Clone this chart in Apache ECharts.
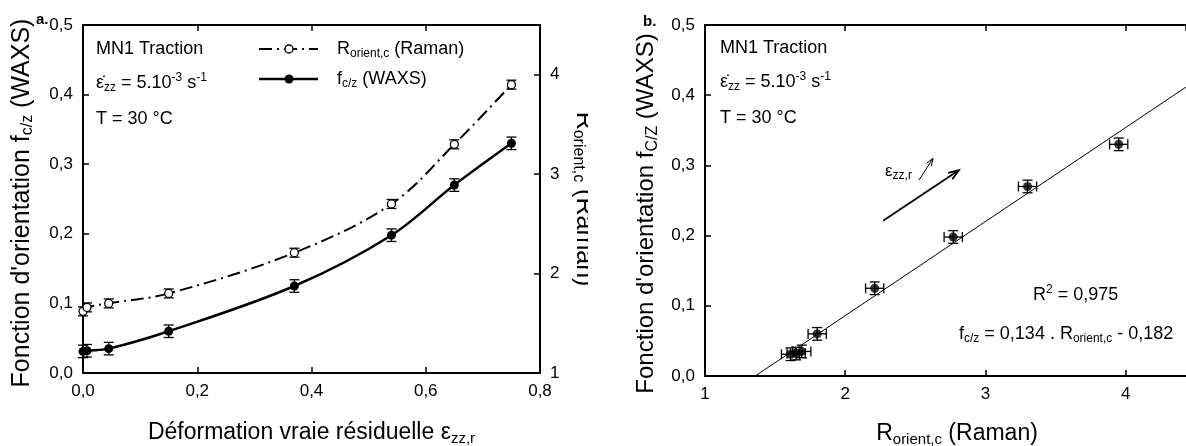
<!DOCTYPE html>
<html><head><meta charset="utf-8">
<script src="https://cdn.jsdelivr.net/npm/echarts@6/dist/echarts.min.js"></script>
<style>
html,body{margin:0;padding:0;background:#fff;overflow:hidden;}
#a{position:absolute;left:0;top:0;width:588px;height:446px;}
#b{position:absolute;left:588px;top:0;width:598px;height:446px;}
</style></head><body>
<div id="a"></div><div id="b"></div>
<script>
// ---- data ----
const strain      = [0, 0.007, 0.045, 0.15, 0.37, 0.54, 0.65, 0.75];
const fcz         = [0.031, 0.032, 0.035, 0.060, 0.125, 0.198, 0.270, 0.330];
const fczErr      = [0.009, 0.009, 0.009, 0.009, 0.009, 0.009, 0.009, 0.009];
const rOrient     = [1.62, 1.66, 1.70, 1.80, 2.21, 2.70, 3.30, 3.90];
const rOrientErr  = [0.045, 0.045, 0.045, 0.045, 0.045, 0.045, 0.045, 0.045];
const rScatter    = [1.61, 1.65, 1.69, 1.80, 2.21, 2.77, 3.30, 3.95];
const rScatterErr = [0.065, 0.065, 0.065, 0.065, 0.065, 0.065, 0.065, 0.065];
const fitSlope = 0.134, fitIntercept = -0.182;
const arrowsB = [[2.27, 0.221, 2.81, 0.293], [2.526, 0.279, 2.626, 0.310]];
const xTicksA = ['0,0', '0,2', '0,4', '0,6', '0,8'];
const yTicksF = ['0,0', '0,1', '0,2', '0,3', '0,4', '0,5'];
const yTicksR = ['1', '2', '3', '4'];
const xTicksB = ['1', '2', '3', '4'];

const FONT = 'Liberation Sans';
const BLACK = '#000';
const richTitle = {
  sub: {fontSize: 16, lineHeight: 16, verticalAlign: 'bottom', fontFamily: FONT, color: BLACK}
};
const richAnn = {
  sub: {fontSize: 12, lineHeight: 12, verticalAlign: 'bottom', fontFamily: FONT, fill: BLACK, color: BLACK},
  sup: {fontSize: 12, lineHeight: 12, verticalAlign: 'top', fontFamily: FONT, fill: BLACK, color: BLACK}
};
const titleStyle = {fontSize: 25, fontFamily: FONT, color: BLACK, lineHeight: 28, rich: richTitle};
const xTitleStyle = {fontSize: 23, fontFamily: FONT, color: BLACK, lineHeight: 26,
  rich: {sub: {fontSize: 15, lineHeight: 15, verticalAlign: 'bottom', fontFamily: FONT, color: BLACK}}};

function axisCommon() {
  return {
    type: 'value',
    axisLine: {show: true, onZero: false, lineStyle: {color: BLACK, width: 2}},
    axisTick: {show: true, inside: true, length: 6, lineStyle: {color: BLACK, width: 1.5}},
    splitLine: {show: false},
    axisLabel: {color: BLACK, fontSize: 17, fontFamily: FONT, margin: 10}
  };
}
function lookup(labels, min, step) {
  return v => { const i = Math.round((v - min) / step); return labels[i] !== undefined && Math.abs(min + i * step - v) < 1e-6 ? labels[i] : ''; };
}
function errV(xs, ys, es, yIdx, cap) {
  return {
    type: 'custom', yAxisIndex: yIdx, z: 2, silent: true,
    data: xs.map((x, i) => [x, ys[i], es[i]]),
    encode: {x: 0, y: 1},
    renderItem(params, api) {
      const x = api.value(0), y = api.value(1), e = api.value(2);
      const a = api.coord([x, y - e]), b = api.coord([x, y + e]);
      const st = {stroke: BLACK, lineWidth: 1.3};
      return {type: 'group', children: [
        {type: 'line', shape: {x1: a[0], y1: a[1], x2: b[0], y2: b[1]}, style: st},
        {type: 'line', shape: {x1: a[0] - cap, y1: a[1], x2: a[0] + cap, y2: a[1]}, style: st},
        {type: 'line', shape: {x1: b[0] - cap, y1: b[1], x2: b[0] + cap, y2: b[1]}, style: st}
      ]};
    }
  };
}
function errH(xs, ys, es, cap) {
  return {
    type: 'custom', z: 2, silent: true,
    data: xs.map((x, i) => [x, ys[i], es[i]]),
    encode: {x: 0, y: 1},
    renderItem(params, api) {
      const x = api.value(0), y = api.value(1), e = api.value(2);
      const a = api.coord([x - e, y]), b = api.coord([x + e, y]);
      const st = {stroke: BLACK, lineWidth: 1.3};
      return {type: 'group', children: [
        {type: 'line', shape: {x1: a[0], y1: a[1], x2: b[0], y2: b[1]}, style: st},
        {type: 'line', shape: {x1: a[0], y1: a[1] - cap, x2: a[0], y2: a[1] + cap}, style: st},
        {type: 'line', shape: {x1: b[0], y1: b[1] - cap, x2: b[0], y2: b[1] + cap}, style: st}
      ]};
    }
  };
}
function annText(x, y, text, size) {
  return {type: 'text', x: x, y: y, z: 10, style: {text: text, fontSize: size || 18, fontFamily: FONT, fill: BLACK,
    lineHeight: 22, verticalAlign: 'middle', align: 'left', rich: richAnn}};
}
const epsLine = '\u03B5\u0307{sub|zz} = 5.10{sup|-3} s{sup|-1}';

// ---- chart a ----
const ca = echarts.init(document.getElementById('a'), null, {renderer: 'canvas'});
ca.setOption({
  animation: false,
  backgroundColor: '#fff',
  grid: {left: 83, right: 48, top: 25, bottom: 73, containLabel: false, outerBoundsMode: 'none'},
  xAxis: [
    Object.assign(axisCommon(), {min: 0, max: 0.8, interval: 0.2, position: 'bottom',
      axisLabel: Object.assign(axisCommon().axisLabel, {formatter: lookup(xTicksA, 0, 0.2)}),
      name: 'Déformation vraie résiduelle \u03B5{sub|zz,r}', nameLocation: 'middle', nameGap: 47,
      nameTextStyle: xTitleStyle}),
    Object.assign(axisCommon(), {min: 0, max: 0.8, interval: 0.2, position: 'top', axisLabel: {show: false}})
  ],
  yAxis: [
    Object.assign(axisCommon(), {min: 0, max: 0.5, interval: 0.1, position: 'left',
      axisLabel: Object.assign(axisCommon().axisLabel, {formatter: lookup(yTicksF, 0, 0.1)}),
      name: "Fonction d'orientation f{sub|c/z} (WAXS)", nameLocation: 'middle', nameGap: 47,
      nameTextStyle: Object.assign({}, titleStyle, {padding: [0, 8, 0, 0]})}),
    Object.assign(axisCommon(), {min: 1, max: 4.5, interval: 1, position: 'right',
      axisLabel: Object.assign(axisCommon().axisLabel, {showMaxLabel: false, formatter: lookup(yTicksR, 1, 1)}),
      name: 'R{sub|orient,c} (Raman)', nameLocation: 'middle', nameGap: 25, nameRotate: -90,
      nameTextStyle: titleStyle})
  ],
  graphic: [
    {type: 'text', x: 36, y: 20, style: {text: 'a.', fontSize: 15, fontWeight: 'bold', fontFamily: FONT, fill: BLACK, verticalAlign: 'middle'}},
    annText(96, 49, 'MN1 Traction'),
    annText(96, 83, epsLine),
    annText(96, 119, 'T = 30 °C'),
    {type: 'line', z: 10, shape: {x1: 259, y1: 49, x2: 318, y2: 49}, style: {stroke: BLACK, lineWidth: 2, lineDash: [13, 5, 2, 5]}},
    {type: 'circle', z: 11, shape: {cx: 289, cy: 49, r: 4}, style: {fill: '#fff', stroke: BLACK, lineWidth: 1.3}},
    annText(337, 49, 'R{sub|orient,c} (Raman)'),
    {type: 'line', z: 10, shape: {x1: 259, y1: 79, x2: 318, y2: 79}, style: {stroke: BLACK, lineWidth: 2.5}},
    {type: 'circle', z: 11, shape: {cx: 289, cy: 79, r: 4.5}, style: {fill: BLACK}},
    annText(337, 79, 'f{sub|c/z} (WAXS)')
  ],
  series: [
    errV(strain, fcz, fczErr, 0, 5),
    errV(strain, rOrient, rOrientErr, 1, 5),
    {type: 'line', yAxisIndex: 1, z: 3, data: strain.map((x, i) => [x, rOrient[i]]), smooth: 0.35,
      symbol: 'circle', symbolSize: 8, showAllSymbol: true,
      itemStyle: {color: '#fff', borderColor: BLACK, borderWidth: 1.3},
      lineStyle: {color: BLACK, width: 2, type: [13, 5, 2, 5]}},
    {type: 'line', yAxisIndex: 0, z: 4, data: strain.map((x, i) => [x, fcz[i]]), smooth: 0.35,
      symbol: 'circle', symbolSize: 9, showAllSymbol: true,
      itemStyle: {color: BLACK, borderColor: BLACK, borderWidth: 0},
      lineStyle: {color: BLACK, width: 2.5}}
  ]
});

// ---- chart b ----
const cb = echarts.init(document.getElementById('b'), null, {renderer: 'canvas'});
const xMaxB = 4.43;
const fitX0 = -fitIntercept / fitSlope, fitX1 = xMaxB;
cb.setOption({
  animation: false,
  backgroundColor: '#fff',
  grid: {left: 117, right: 0, top: 25, bottom: 70, containLabel: false, outerBoundsMode: 'none'},
  xAxis: [
    Object.assign(axisCommon(), {min: 1, max: xMaxB, interval: 1, position: 'bottom',
      axisLabel: Object.assign(axisCommon().axisLabel, {showMaxLabel: false, formatter: lookup(xTicksB, 1, 1)}),
      name: 'R{sub|orient,c} (Raman)', nameLocation: 'middle', nameGap: 45,
      nameTextStyle: Object.assign({}, xTitleStyle, {padding: [0, 0, 0, 23]})}),
    Object.assign(axisCommon(), {min: 1, max: xMaxB, interval: 1, position: 'top', axisLabel: {show: false}})
  ],
  yAxis: [
    Object.assign(axisCommon(), {min: 0, max: 0.5, interval: 0.1, position: 'left',
      axisLabel: Object.assign(axisCommon().axisLabel, {formatter: lookup(yTicksF, 0, 0.1)}),
      name: "Fonction d'orientation f{sub|C/Z} (WAXS)", nameLocation: 'middle', nameGap: 43,
      nameTextStyle: Object.assign({}, titleStyle, {fontSize: 24, padding: [0, 26, 0, 0]})}),
    {type: 'value', min: 0, max: 0.5, position: 'right', show: false}
  ],
  graphic: [
    {type: 'text', x: 55, y: 22, style: {text: 'b.', fontSize: 15, fontWeight: 'bold', fontFamily: FONT, fill: BLACK, verticalAlign: 'middle'}},
    annText(132, 48, 'MN1 Traction'),
    annText(132, 82, epsLine),
    annText(132, 118, 'T = 30 °C'),
    annText(297, 171, '\u03B5{sub|zz,r}', 17),
    annText(445, 295, 'R{sup|2} = 0,975'),
    annText(371, 334, 'f{sub|c/z} = 0,134 . R{sub|orient,c} - 0,182')
  ],
  series: [
    {type: 'line', z: 1, data: [[fitX0, 0], [fitX1, fitSlope * fitX1 + fitIntercept]], symbol: 'none',
      lineStyle: {color: BLACK, width: 1}},
    errH(rScatter, fcz, rScatterErr, 5),
    errV(rScatter, fcz, fczErr, 0, 5),
    {type: 'scatter', z: 4, data: rScatter.map((x, i) => [x, fcz[i]]), symbol: 'circle', symbolSize: 9,
      itemStyle: {color: BLACK}},
    {type: 'custom', z: 5, silent: true, data: arrowsB, encode: {x: [0, 2], y: [1, 3]},
      renderItem(params, api) {
        const a = api.coord([api.value(0), api.value(1)]), b = api.coord([api.value(2), api.value(3)]);
        const ang = Math.atan2(b[1] - a[1], b[0] - a[0]);
        const L = params.dataIndex === 0 ? 11 : 8, w = params.dataIndex === 0 ? 1.8 : 1;
        const h1 = [b[0] - L * Math.cos(ang - 0.35), b[1] - L * Math.sin(ang - 0.35)];
        const h2 = [b[0] - L * Math.cos(ang + 0.35), b[1] - L * Math.sin(ang + 0.35)];
        const st = {stroke: BLACK, lineWidth: w, fill: null};
        return {type: 'group', children: [
          {type: 'line', shape: {x1: a[0], y1: a[1], x2: b[0], y2: b[1]}, style: st},
          {type: 'polyline', shape: {points: [h1, b, h2]}, style: st}
        ]};
      }}
  ]
});
</script>
</body></html>
